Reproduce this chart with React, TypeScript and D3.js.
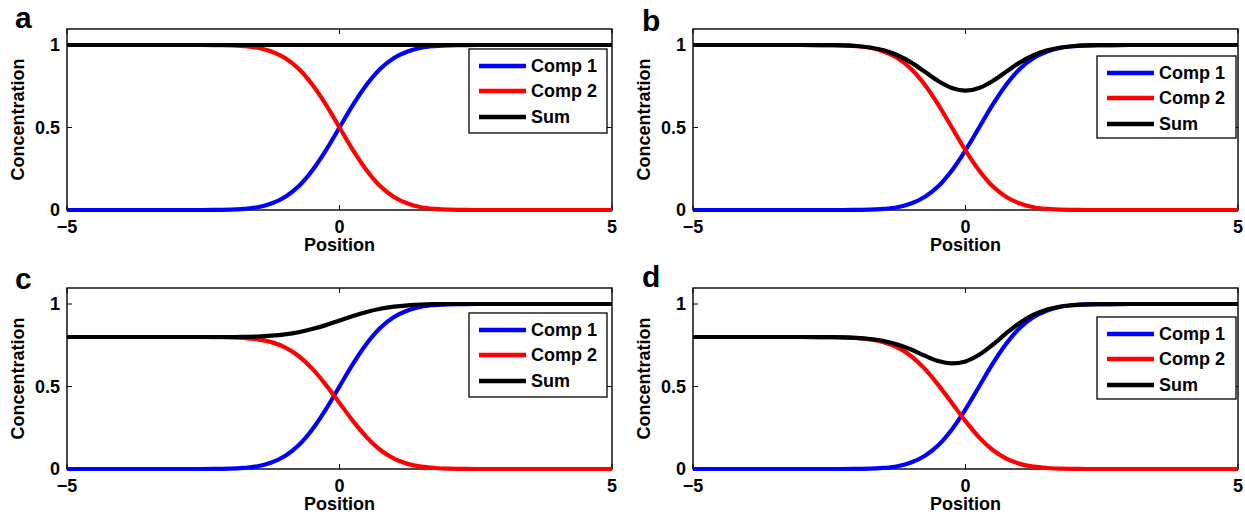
import * as d3 from "d3";

const positions = [
  -5, -4, -3, -2.5, -2.25, -2, -1.75, -1.5, -1.25, -1, -0.75, -0.5, -0.25, 0,
  0.25, 0.5, 0.75, 1, 1.25, 1.5, 1.75, 2, 2.25, 2.5, 3, 4, 5,
];

// panel a
const aComp1 = [0, 0, 0, 0, 0.001, 0.002, 0.007, 0.017, 0.039, 0.079, 0.144, 0.24, 0.362, 0.5, 0.638, 0.76, 0.856, 0.921, 0.961, 0.983, 0.993, 0.998, 0.999, 1, 1, 1, 1];
const aComp2 = [1, 1, 1, 1, 0.999, 0.998, 0.993, 0.983, 0.961, 0.921, 0.856, 0.76, 0.638, 0.5, 0.362, 0.24, 0.144, 0.079, 0.039, 0.017, 0.007, 0.002, 0.001, 0, 0, 0, 0];
const aSum = [1, 1, 1, 1, 1, 1, 1, 1, 1, 1, 1, 1, 1, 1, 1, 1, 1, 1, 1, 1, 1, 1, 1, 1, 1, 1, 1];

// panel b
const bComp1 = [0, 0, 0, 0, 0, 0.001, 0.002, 0.007, 0.017, 0.039, 0.079, 0.144, 0.24, 0.362, 0.5, 0.638, 0.76, 0.856, 0.921, 0.961, 0.983, 0.993, 0.998, 0.999, 1, 1, 1];
const bComp2 = [1, 1, 1, 0.999, 0.998, 0.993, 0.983, 0.961, 0.921, 0.856, 0.76, 0.638, 0.5, 0.362, 0.24, 0.144, 0.079, 0.039, 0.017, 0.007, 0.002, 0.001, 0, 0, 0, 0, 0];
const bSum = [1, 1, 1, 0.999, 0.998, 0.994, 0.985, 0.968, 0.938, 0.895, 0.839, 0.782, 0.74, 0.724, 0.74, 0.782, 0.839, 0.895, 0.938, 0.968, 0.985, 0.994, 0.998, 0.999, 1, 1, 1];

// panel c
const cComp1 = [0, 0, 0, 0, 0.001, 0.002, 0.007, 0.017, 0.039, 0.079, 0.144, 0.24, 0.362, 0.5, 0.638, 0.76, 0.856, 0.921, 0.961, 0.983, 0.993, 0.998, 0.999, 1, 1, 1, 1];
const cComp2 = [0.8, 0.8, 0.8, 0.8, 0.799, 0.798, 0.794, 0.786, 0.769, 0.737, 0.685, 0.608, 0.51, 0.4, 0.29, 0.192, 0.115, 0.063, 0.031, 0.014, 0.006, 0.002, 0.001, 0, 0, 0, 0];
const cSum = [0.8, 0.8, 0.8, 0.8, 0.8, 0.8, 0.801, 0.803, 0.808, 0.816, 0.829, 0.848, 0.872, 0.9, 0.928, 0.952, 0.971, 0.984, 0.992, 0.997, 0.999, 1, 1, 1, 1, 1, 1];

// panel d
const dComp1 = [0, 0, 0, 0, 0, 0.001, 0.002, 0.007, 0.017, 0.039, 0.079, 0.144, 0.24, 0.362, 0.5, 0.638, 0.76, 0.856, 0.921, 0.961, 0.983, 0.993, 0.998, 0.999, 1, 1, 1];
const dComp2 = [0.8, 0.8, 0.8, 0.799, 0.798, 0.794, 0.786, 0.769, 0.737, 0.685, 0.608, 0.51, 0.4, 0.29, 0.192, 0.115, 0.063, 0.031, 0.014, 0.006, 0.002, 0.001, 0, 0, 0, 0, 0];
const dSum = [0.8, 0.8, 0.8, 0.799, 0.798, 0.795, 0.788, 0.776, 0.754, 0.724, 0.687, 0.654, 0.64, 0.652, 0.692, 0.753, 0.823, 0.887, 0.935, 0.967, 0.985, 0.994, 0.998, 0.999, 1, 1, 1];

const xTicks = [-5, 0, 5];
const xTickLabels = ["\u22125", "0", "5"];
const yTicks = [0, 0.5, 1];
const yTickLabels = ["0", "0.5", "1"];
const seriesNames = ["Comp 1", "Comp 2", "Sum"];
const seriesColors = ["#0000ff", "#ff0000", "#000000"];

const W = 545;
const H = 181;
const FONT = "'Liberation Sans', Arial, Helvetica, sans-serif";
const FS = 18;

const panels = [
  { label: "a", series: [aComp1, aComp2, aSum], left: 67, top: 29, lx: 15, ly: 28, leg: [402, 20, 138, 84] },
  { label: "b", series: [bComp1, bComp2, bSum], left: 693, top: 29, lx: 642, ly: 31, leg: [404, 27, 139, 82] },
  { label: "c", series: [cComp1, cComp2, cSum], left: 67, top: 288, lx: 15, ly: 289, leg: [402, 25, 138, 84] },
  { label: "d", series: [dComp1, dComp2, dSum], left: 693, top: 288, lx: 642, ly: 287, leg: [404, 29, 139, 82] },
];

const x = d3.scaleLinear().domain([-5, 5]).range([0, W]);
const y = d3.scaleLinear().domain([0, 1.097]).range([H, 0]);

const line = d3
  .line<number>()
  .x((_, i) => x(positions[i]))
  .y((d) => y(d))
  .curve(d3.curveMonotoneX);

function Panel({ p }: { p: (typeof panels)[number] }) {
  const [lgx, lgy, lgw, lgh] = p.leg;
  const rows = [lgy + 17, lgy + 42, lgy + 68];
  return (
    <g>
      <text x={p.lx} y={p.ly} fontSize={30} fontWeight="bold" fontFamily={FONT}>
        {p.label}
      </text>
      <g transform={`translate(${p.left},${p.top})`}>
        <rect x={0} y={0} width={W} height={H} fill="none" stroke="#000" strokeWidth={1.4} />
        {xTicks.map((t) => (
          <g key={"xt" + t}>
            <line x1={x(t)} x2={x(t)} y1={H} y2={H - 5} stroke="#000" strokeWidth={1} />
            <line x1={x(t)} x2={x(t)} y1={0} y2={5} stroke="#000" strokeWidth={1} />
          </g>
        ))}
        {yTicks.map((t) => (
          <g key={"yt" + t}>
            <line x1={0} x2={5} y1={y(t)} y2={y(t)} stroke="#000" strokeWidth={1} />
            <line x1={W} x2={W - 5} y1={y(t)} y2={y(t)} stroke="#000" strokeWidth={1} />
          </g>
        ))}
        {xTicks.map((t, i) => (
          <text key={"xl" + t} x={x(t)} y={H + 23} textAnchor="middle" fontSize={FS} fontWeight="bold" fontFamily={FONT}>
            {xTickLabels[i]}
          </text>
        ))}
        {yTicks.map((t, i) => (
          <text key={"yl" + t} x={-7} y={y(t)} dy="0.36em" textAnchor="end" fontSize={FS} fontWeight="bold" fontFamily={FONT}>
            {yTickLabels[i]}
          </text>
        ))}
        <text x={W / 2} y={H + 41} textAnchor="middle" fontSize={FS} fontWeight="bold" fontFamily={FONT}>
          Position
        </text>
        <text
          transform={`translate(-49,${H / 2}) rotate(-90)`}
          textAnchor="middle"
          dy="0.36em"
          fontSize={FS}
          fontWeight="bold"
          fontFamily={FONT}
        >
          Concentration
        </text>
        {p.series.map((s, i) => (
          <path key={"s" + i} d={line(s) || ""} fill="none" stroke={seriesColors[i]} strokeWidth={4.2} strokeLinejoin="round" />
        ))}
        <rect x={lgx} y={lgy} width={lgw} height={lgh} fill="#fff" stroke="#000" strokeWidth={1.3} />
        {seriesNames.map((n, i) => (
          <g key={n}>
            <line x1={lgx + 10} x2={lgx + 57} y1={rows[i]} y2={rows[i]} stroke={seriesColors[i]} strokeWidth={4.5} />
            <text x={lgx + 62} y={rows[i]} dy="0.36em" fontSize={FS} fontWeight="bold" fontFamily={FONT}>
              {n}
            </text>
          </g>
        ))}
      </g>
    </g>
  );
}

export default function App() {
  return (
    <svg
      width={1245}
      height={514}
      style={{ position: "absolute", left: 0, top: 0, background: "#fff" }}
    >
      {panels.map((p) => (
        <Panel key={p.label} p={p} />
      ))}
    </svg>
  );
}
